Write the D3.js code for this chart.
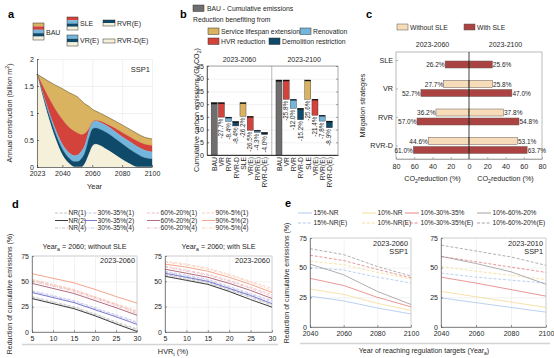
<!DOCTYPE html>
<html><head><meta charset="utf-8">
<script src="https://cdn.jsdelivr.net/npm/d3@7/dist/d3.min.js"></script>
<style>html,body{margin:0;padding:0;background:#fff;}</style>
</head><body>
<svg id="fig" width="554" height="358" xmlns="http://www.w3.org/2000/svg"></svg>
<script>
// ================= DATA =================
// Panel a : annual construction (billion m2), SSP1
const aYears  = [2023,2030,2035,2040,2045,2048,2050,2053,2055,2058,2060,2062,2065,2070,2080,2085,2090,2095,2100];
const aBAU    = [1.72,1.60,1.52,1.45,1.37,1.33,1.30,1.22,1.17,1.12,1.07,1.04,1.00,0.93,0.78,0.70,0.62,0.55,0.52];
const aSLE    = [1.72,1.33,1.08,0.88,0.72,0.66,0.63,0.60,0.62,0.72,0.83,0.86,0.85,0.79,0.64,0.56,0.48,0.42,0.40];
const aVRE    = [1.72,1.10,0.72,0.42,0.25,0.21,0.22,0.30,0.40,0.68,0.82,0.85,0.83,0.76,0.56,0.47,0.38,0.31,0.28];
const aRVRE   = [1.72,1.05,0.65,0.33,0.15,0.10,0.10,0.16,0.26,0.55,0.70,0.72,0.70,0.63,0.43,0.33,0.24,0.17,0.15];
const aRVRDE  = [1.72,0.98,0.55,0.22,0.05,0.00,0.00,0.00,0.06,0.25,0.38,0.42,0.40,0.32,0.14,0.06,0.00,0.00,0.00];
const aXTicks = [2023,2040,2060,2080,2100];
const aYTicks = [0,0.5,1,1.5,2];

// Panel b : cumulative carbon emissions (Gt CO2)
const bCats    = ["BAU","VR","RVR","RVR-D","SLE","VR(E)","RVR(E)","RVR-D(E)"];
const bPeriods = ["2023-2060","2023-2100"];
const bBAU     = [20.6, 29.5];
const bPct2060 = [27.7, 8.4, 8.4, 26.2, 26.5, 4.3, 4.0];
const bPct2100 = [25.8, 12.0, 15.2, 25.6, 21.4, 7.8, 8.9];
const bYTicks  = [0,5,10,15,20,25,30,35];

// Panel c : CO2 reduction (%)
const cCats        = ["SLE","VR","RVR","RVR-D"];
const cWithout2060 = [null, 27.7, 36.2, 44.6];
const cWith2060    = [26.2, 52.7, 57.0, 61.0];
const cWithout2100 = [null, 25.8, 37.8, 53.1];
const cWith2100    = [25.6, 47.0, 54.8, 63.7];
const cTicks       = [80,60,40,20,0,20,40,60,80];

// Panel d : reduction of cumulative emissions (%) vs HVR_t (%)
const dHVR = [5,10,15,20,25,30];
const dNo_NR1  = [35,30,25,18,10,3];
const dNo_NR2  = [33,28,23,16,8,0.5];
const dNo_NR4  = [34,29,24,17,9,2];
const dNo_A1   = [41,36,31,24,17,10];
const dNo_A2   = [39,34,29,22,15,7.5];
const dNo_A4   = [40,35,30,23,16,9];
const dNo_B1   = [51,46,41,34,27,19];
const dNo_B2   = [48,43,38,31,24,16.5];
const dNo_B4   = [50,45,40,33,26,18];
const dNo_C1   = [52,47,42,35,28,21];
const dNo_C2   = [57.5,53,48.5,42,35,28.5];
const dNo_C4   = [51.5,46.5,41.5,34.5,27.5,20];
const dSle_NR1 = [57,53,49,42,35,27];
const dSle_NR2 = [55,51,47,40,32,24.5];
const dSle_NR4 = [56,52,48,41,34,26];
const dSle_A1  = [60,56,52,45,38,31];
const dSle_A2  = [58,54,50,43,36,28];
const dSle_A4  = [59,55,51,44,37,30];
const dSle_B1  = [65,61,57,51,44,37];
const dSle_B2  = [62,58,54,48,41,33];
const dSle_B4  = [64,60,56,50,43,35];
const dSle_C1  = [70,67,63,57,50,43];
const dSle_C2  = [67,64,60,54,47,39];
const dSle_C4  = [69,66,62,56,49,41];
const dXTicks = [5,10,15,20,25,30];
const dYTicks = [0,25,50,75];

// Panel e : reduction of cumulative emissions (%) vs Year_a
const eYears = [2040,2060,2080,2100];
const e60_NR15   = [26,22,16,11];
const e60_NR10   = [32,27.5,20,14];
const e60_R3035  = [41,35,25,17];
const e60_R6020  = [53,44,30,19];
const e60_NR15E  = [50,48,42,37];
const e60_NR10E  = [55.5,52.5,46,40.5];
const e60_R3035E = [60.5,56,48.5,41.5];
const e60_R6020E = [66,61,51,43];
const e100_NR15   = [24.5,20.5,16.5,12.5];
const e100_NR10   = [30,25.5,21,16.5];
const e100_R3035  = [42,37,31.5,26];
const e100_R6020  = [59.5,53.5,46.5,36];
const e100_NR15E  = [45.5,42,39.5,37];
const e100_NR10E  = [51,47,43.5,40];
const e100_R3035E = [59.5,55,50.5,46];
const e100_R6020E = [69,64,59,52];
const eXTicks = [2040,2060,2080,2100];
const eYTicks = [0,25,50,75];

// ================= STYLE =================
const F = "'Liberation Sans', Arial, Helvetica, sans-serif";
const GOLD="#d9b35f", RED="#d3423b", LB="#74b5dc", NAVY="#0f4a6a", CREAM="#f4f0da", BAUG="#6e6e6e";
const TXT="#262626", GRID="#e4e4e4";
const svg = d3.select("#fig").attr("font-family", F);

function T(g,x,y,s,o={}){
  const t=g.append("text").attr("x",x).attr("y",y).attr("font-size",o.fs||7).attr("fill",o.fill||TXT).text(s);
  if(o.anchor) t.attr("text-anchor",o.anchor);
  if(o.weight) t.attr("font-weight",o.weight);
  if(o.rot!=null) t.attr("transform",`rotate(${o.rot},${x},${y})`);
  return t;
}
function R(g,x,y,parts,o={}){
  const fs=o.fs||7;
  const t=g.append("text").attr("x",x).attr("y",y).attr("font-size",fs).attr("fill",o.fill||TXT);
  if(o.anchor) t.attr("text-anchor",o.anchor);
  if(o.rot!=null) t.attr("transform",`rotate(${o.rot},${x},${y})`);
  let shift=0;
  parts.forEach(([s,k])=>{
    const sp=t.append("tspan").text(s);
    const target = k==="sub"?2:(k==="sup"?-3:0);
    sp.attr("dy",target-shift); shift=target;
    if(k) sp.attr("font-size",fs*0.72);
  });
  return t;
}
function styleAxis(a,col,fs){
  a.attr("font-family",F);
  a.selectAll(".domain").attr("stroke",col||TXT).attr("stroke-width",0.6);
  a.selectAll(".tick line").attr("stroke",col||TXT).attr("stroke-width",0.6);
  a.selectAll(".tick text").attr("font-size",fs||7).attr("fill",TXT).attr("font-family",F);
  return a;
}
function gridX(g,x,ticks,y0,y1){
  g.append("g").attr("transform",`translate(0,${y0})`)
   .call(d3.axisBottom(x).tickValues(ticks).tickSize(-(y0-y1)).tickFormat(""))
   .call(s=>{s.select(".domain").remove(); s.selectAll("line").attr("stroke",GRID).attr("stroke-width",0.5);});
}
function gridY(g,y,ticks,x0,x1){
  g.append("g").attr("transform",`translate(${x0},0)`)
   .call(d3.axisLeft(y).tickValues(ticks).tickSize(-(x1-x0)).tickFormat(""))
   .call(s=>{s.select(".domain").remove(); s.selectAll("line").attr("stroke",GRID).attr("stroke-width",0.5);});
}

// ================= PANEL a =================
(function(){
  const g=svg.append("g");
  const x=d3.scaleLinear().domain([2023,2100]).range([37,152]);
  const y=d3.scaleLinear().domain([0,2]).range([167,59]);
  gridX(g,x,aXTicks,167,59); gridY(g,y,aYTicks,37,152);
  const zeros=aYears.map(()=>0);
  const layers=[[aBAU,aSLE,GOLD],[aSLE,aVRE,RED],[aVRE,aRVRE,LB],[aRVRE,aRVRDE,NAVY],[aRVRDE,zeros,CREAM]];
  layers.forEach(([top,bot,c])=>{
    const ar=d3.area().curve(d3.curveMonotoneX).x((d,i)=>x(aYears[i])).y0((d,i)=>y(bot[i])).y1((d,i)=>y(top[i]));
    g.append("path").datum(top).attr("d",ar).attr("fill",c).attr("stroke",c).attr("stroke-width",0.3);
  });
  g.append("path").datum(aBAU).attr("fill","none").attr("stroke","#6b5a3a").attr("stroke-width",0.6)
    .attr("d",d3.line().curve(d3.curveMonotoneX).x((d,i)=>x(aYears[i])).y(d=>y(d)));
  styleAxis(g.append("g").attr("transform","translate(0,167)")
    .call(d3.axisBottom(x).tickValues(aXTicks).tickFormat(d3.format("d")).tickSizeInner(-2).tickSizeOuter(0).tickPadding(4)));
  styleAxis(g.append("g").attr("transform","translate(37,0)")
    .call(d3.axisLeft(y).tickValues(aYTicks).tickFormat(d=>String(d)).tickSizeInner(-2).tickSizeOuter(0).tickPadding(3)));
  T(g,150,72,"SSP1",{anchor:"end",fs:7.5});
  T(g,94.5,189,"Year",{anchor:"middle",fs:7.5});
  R(g,12,113,[["Annual construction (billion m",""],["2","sup"],[")",""]],{anchor:"middle",rot:-90,fs:7.2});
  T(g,8,18,"a",{fs:11,weight:"bold",fill:"#000"});
  // legend icons
  function icon(x0,y0,w,h,cols){
    const bh=h/cols.length;
    cols.forEach((c,i)=>g.append("rect").attr("x",x0).attr("y",y0+i*bh).attr("width",w).attr("height",bh).attr("fill",c));
    g.append("rect").attr("x",x0).attr("y",y0).attr("width",w).attr("height",h).attr("fill","none").attr("stroke","#333").attr("stroke-width",0.5);
  }
  icon(33,23,11,17,[GOLD,RED,LB,NAVY,CREAM]); T(g,46,35,"BAU",{fs:7});
  icon(67,17,11,13,[RED,LB,NAVY,CREAM]);     T(g,80,26,"SLE",{fs:7});
  icon(67,35,11,11,[LB,NAVY,CREAM]);         T(g,80,43,"VR(E)",{fs:7});
  icon(103,20,12,6,[NAVY,CREAM]);            T(g,117,26,"RVR(E)",{fs:7});
  icon(103,39,12,4,[CREAM]);                 T(g,117,43,"RVR-D(E)",{fs:7});
})();

// ================= PANEL b =================
(function(){
  const g=svg.append("g");
  const x=d3.scaleLinear().domain([0,18.2]).range([207,338]);
  const y=d3.scaleLinear().domain([0,35]).range([155,66]);
  gridY(g,y,bYTicks,207,338);
  const colors=[RED,LB,NAVY,GOLD,RED,LB,NAVY];
  const pcts=[bPct2060,bPct2100];
  const hw=0.42;
  const ticks=[], labs={};
  [0,1].forEach(p=>{
    const base=p*9, B=bBAU[p];
    ticks.push(base+1); labs[base+1]="BAU";
    // BAU bar
    g.append("rect").attr("x",x(base+1-hw)).attr("width",x(base+1+hw)-x(base+1-hw)).attr("y",y(B)).attr("height",y(0)-y(B)).attr("fill",BAUG).attr("stroke","#333").attr("stroke-width",0.4);
    g.append("line").attr("x1",x(base+1-hw)).attr("x2",x(base+1+hw)).attr("y1",y(B)+0.8).attr("y2",y(B)+0.8).attr("stroke","#111").attr("stroke-width",1.6);
    let cur=B;
    pcts[p].forEach((pc,k)=>{
      if(k===3) cur=B;
      const i=base+2+k; ticks.push(i); labs[i]=bCats[k+1];
      const top=cur, bot=cur-B*pc/100; cur=bot;
      g.append("rect").attr("x",x(i-hw)).attr("width",x(i+hw)-x(i-hw)).attr("y",y(top)).attr("height",y(bot)-y(top)).attr("fill",colors[k]).attr("stroke","#333").attr("stroke-width",0.4);
      g.append("line").attr("x1",x(i-hw)).attr("x2",x(i+hw)).attr("y1",y(top)+0.6).attr("y2",y(top)+0.6).attr("stroke","#111").attr("stroke-width",1.2);
      g.append("text").attr("transform",`translate(${x(i)},${y(bot)+1.5}) rotate(-90)`).attr("text-anchor","end").attr("dy","0.33em")
        .attr("font-size",6.3).attr("fill",TXT).text("-"+pc.toFixed(1)+"%");
    });
  });
  g.append("line").attr("x1",x(9)).attr("x2",x(9)).attr("y1",66).attr("y2",155).attr("stroke","#999").attr("stroke-width",0.7);
  g.append("rect").attr("x",207).attr("y",66).attr("width",131).attr("height",89).attr("fill","none").attr("stroke","#555").attr("stroke-width",0.5);
  const ax=styleAxis(g.append("g").attr("transform","translate(0,155)")
    .call(d3.axisBottom(x).tickValues(ticks).tickFormat(i=>labs[i]).tickSizeInner(0).tickSizeOuter(0)));
  ax.selectAll(".tick text").attr("transform","rotate(-90)").attr("text-anchor","end").attr("x",-2).attr("y",0).attr("dy","0.33em").attr("font-size",6.8);
  ax.select(".domain").attr("stroke","#111").attr("stroke-width",0.8);
  styleAxis(g.append("g").attr("transform","translate(207,0)")
    .call(d3.axisLeft(y).tickValues(bYTicks).tickSizeInner(-2).tickSizeOuter(0).tickPadding(3)));
  g.append("g").attr("transform","translate(338,0)").call(d3.axisRight(y).tickValues(bYTicks).tickSizeInner(-2).tickSizeOuter(0).tickFormat(""))
    .call(s=>{s.select(".domain").remove(); s.selectAll("line").attr("stroke","#555").attr("stroke-width",0.5);});
  T(g,x(4.5),62,bPeriods[0],{anchor:"middle",fs:7});
  T(g,x(13.5),62,bPeriods[1],{anchor:"middle",fs:7});
  R(g,199,110,[["Cumulative carbon emissions (Gt CO",""],["2","sub"],[")",""]],{anchor:"middle",rot:-90,fs:7.2});
  T(g,180,18,"b",{fs:11,weight:"bold",fill:"#000"});
  // legend
  function sw(x0,y0,c){g.append("rect").attr("x",x0).attr("y",y0).attr("width",11).attr("height",6.5).attr("fill",c).attr("stroke","#333").attr("stroke-width",0.5);}
  sw(193,5,BAUG); T(g,207,11,"BAU - Cumulative emissions",{fs:6.8});
  T(g,193,22,"Reduction benefiting  from",{fs:6.8});
  sw(208,28,GOLD); T(g,221,34,"Service lifespan extension",{fs:6.8});
  sw(300,28,LB);   T(g,313,34,"Renovation",{fs:6.8});
  sw(208,38,RED);  T(g,221,44,"HVR reduction",{fs:6.8});
  sw(269,38,NAVY); T(g,282,44,"Demolition restriction",{fs:6.8});
})();

// ================= PANEL c =================
(function(){
  const g=svg.append("g");
  const LIGHT="#f6dcb9", DARK="#aa4341";
  const xl=d3.scaleLinear().domain([80,0]).range([396,469]);
  const xr=d3.scaleLinear().domain([0,80]).range([469,542]);
  const y=d3.scalePoint().domain(cCats).range([60,145.5]);
  g.append("rect").attr("x",396).attr("y",52).attr("width",146).attr("height",107).attr("fill","none").attr("stroke","#8c8c8c").attr("stroke-width",0.6);
  function bar(x0,x1,yy,c){g.append("rect").attr("x",Math.min(x0,x1)).attr("y",yy).attr("width",Math.abs(x1-x0)).attr("height",7).attr("fill",c).attr("stroke","#6b5b55").attr("stroke-width",0.5);}
  cCats.forEach((cat,i)=>{
    const yc=y(cat);
    if(cWithout2060[i]!=null){
      bar(xl(cWithout2060[i]),xl(0),yc-8,LIGHT); bar(xr(0),xr(cWithout2100[i]),yc-8,LIGHT);
      T(g,xl(cWithout2060[i])-0.5,yc-2,cWithout2060[i].toFixed(1)+"%",{anchor:"end",fs:6.5});
      T(g,xr(cWithout2100[i])+0.5,yc-2,cWithout2100[i].toFixed(1)+"%",{fs:6.5});
    }
    bar(xl(cWith2060[i]),xl(0),yc+1,DARK); bar(xr(0),xr(cWith2100[i]),yc+1,DARK);
    T(g,xl(cWith2060[i])-0.5,yc+7,cWith2060[i].toFixed(1)+"%",{anchor:"end",fs:6.5});
    T(g,xr(cWith2100[i])+0.5,yc+7,cWith2100[i].toFixed(1)+"%",{fs:6.5});
  });
  g.append("line").attr("x1",469).attr("x2",469).attr("y1",52).attr("y2",159).attr("stroke","#111").attr("stroke-width",0.8);
  styleAxis(g.append("g").attr("transform","translate(0,159)")
    .call(d3.axisBottom(xl).tickValues(cTicks.slice(0,4)).tickSizeInner(-2).tickSizeOuter(0).tickPadding(5)),"#8c8c8c",7.2);
  styleAxis(g.append("g").attr("transform","translate(0,159)")
    .call(d3.axisBottom(xr).tickValues(cTicks.slice(4)).tickSizeInner(-2).tickSizeOuter(0).tickPadding(5)),"#8c8c8c",7.2);
  const ya=styleAxis(g.append("g").attr("transform","translate(396,0)")
    .call(d3.axisLeft(y).tickSizeInner(-2).tickSizeOuter(0).tickPadding(3)),"#8c8c8c",7.2);
  ya.select(".domain").remove();
  T(g,432.5,47,"2023-2060",{anchor:"middle",fs:7});
  T(g,505.5,47,"2023-2100",{anchor:"middle",fs:7});
  R(g,432.5,181,[["CO",""],["2","sub"],["reduction  (%)",""]],{anchor:"middle",fs:7.2});
  R(g,505.5,181,[["CO",""],["2","sub"],["reduction  (%)",""]],{anchor:"middle",fs:7.2});
  T(g,365,105.5,"Mitigation strategies",{anchor:"middle",rot:-90,fs:7.2});
  T(g,366,18,"c",{fs:11,weight:"bold",fill:"#000"});
  g.append("rect").attr("x",397).attr("y",24).attr("width",11).attr("height",6).attr("fill",LIGHT).attr("stroke","#555").attr("stroke-width",0.5);
  T(g,410,30,"Without SLE",{fs:6.8});
  g.append("rect").attr("x",464).attr("y",24).attr("width",11).attr("height",6).attr("fill",DARK).attr("stroke","#555").attr("stroke-width",0.5);
  T(g,477,30,"With SLE",{fs:6.8});
})();

// ================= PANEL d =================
(function(){
  const g=svg.append("g");
  const y=d3.scaleLinear().domain([0,75]).range([332,256]);
  const grp=[["NR","#262626","#b4b4b4"],["30%-35%","#6a6ac6","#b6b6e6"],["60%-20%","#aa5a6c","#e6aab6"],["90%-5%","#f39b7d","#f8c4ae"]];
  const dash={"1":"3,1.6","2":null,"4":"3.2,1.4,1,1.4"};
  const noSLE=[[dNo_NR1,dNo_NR2,dNo_NR4],[dNo_A1,dNo_A2,dNo_A4],[dNo_B1,dNo_B2,dNo_B4],[dNo_C1,dNo_C2,dNo_C4]];
  const sle=[[dSle_NR1,dSle_NR2,dSle_NR4],[dSle_A1,dSle_A2,dSle_A4],[dSle_B1,dSle_B2,dSle_B4],[dSle_C1,dSle_C2,dSle_C4]];
  const vars=["1","2","4"];
  function plot(x0,x1,data,title){
    const x=d3.scaleLinear().domain([5,30]).range([x0,x1]);
    g.append("rect").attr("x",x0).attr("y",256).attr("width",x1-x0).attr("height",76).attr("fill","#fff").attr("stroke","#9a9a9a").attr("stroke-width",0.5);
    gridX(g,x,dXTicks,332,256); gridY(g,y,dYTicks,x0,x1);
    const ln=d3.line().x((d,i)=>x(dHVR[i])).y(d=>y(d));
    // light first, then solid
    [0,2,1].forEach(v=>{
      data.forEach((arrs,gi)=>{
        const p=g.append("path").datum(arrs[v]).attr("d",ln).attr("fill","none")
          .attr("stroke",v===1?grp[gi][1]:grp[gi][2]).attr("stroke-width",v===1?0.9:0.7);
        if(dash[vars[v]]) p.attr("stroke-dasharray",dash[vars[v]]);
      });
    });
    styleAxis(g.append("g").attr("transform","translate(0,332)")
      .call(d3.axisBottom(x).tickValues(dXTicks).tickSizeInner(-2).tickSizeOuter(0).tickPadding(4)),"#555",7);
    styleAxis(g.append("g").attr("transform",`translate(${x0},0)`)
      .call(d3.axisLeft(y).tickValues(dYTicks).tickSizeInner(-2).tickSizeOuter(0).tickPadding(3)),"#555",7);
    T(g,x1-2,263,"2023-2060",{anchor:"end",fs:7.3});
    R(g,(x0+x1)/2,249,[["Year",""],["a","sub"],[" = 2060; "+title,""]],{anchor:"middle",fs:7.2});
  }
  plot(32,137,noSLE,"without SLE");
  plot(165,272,sle,"with SLE");
  R(g,173,354,[["HVR",""],["t","sub"],[" (%)",""]],{anchor:"middle",fs:7.3});
  T(g,12,294,"Reduction of cumulative emissions (%)",{anchor:"middle",rot:-90,fs:7});
  T(g,12,208,"d",{fs:11,weight:"bold",fill:"#000"});
  g.append("line").attr("x1",22).attr("x2",278).attr("y1",344.5).attr("y2",344.5).attr("stroke","#d4d4d4").attr("stroke-width",1.5);
  // legend
  const colX=[55,84,147,202], rowY=[213,220.5,228];
  grp.forEach((gr,gi)=>{
    vars.forEach((v,vi)=>{
      const l=g.append("line").attr("x1",colX[gi]).attr("x2",colX[gi]+13).attr("y1",rowY[vi]).attr("y2",rowY[vi])
        .attr("stroke",vi===1?gr[1]:gr[2]).attr("stroke-width",vi===1?0.9:0.8);
      if(dash[v]) l.attr("stroke-dasharray",dash[v]);
      T(g,colX[gi]+13.5,rowY[vi]+2.4,gr[0]+"("+v+")",{fs:6.6});
    });
  });
})();

// ================= PANEL e =================
(function(){
  const g=svg.append("g");
  const y=d3.scaleLinear().domain([0,75]).range([327,238]);
  const cols=["#a8c5ee","#f5da94","#e57c7c","#9a9a9a"];
  const names=["15%-NR","10%-NR","10%-30%-35%","10%-60%-20%"];
  function plot(x0,x1,sol,das,t1){
    const x=d3.scaleLinear().domain([2040,2100]).range([x0,x1]);
    g.append("rect").attr("x",x0).attr("y",238).attr("width",x1-x0).attr("height",89).attr("fill","#fff").attr("stroke","#9a9a9a").attr("stroke-width",0.5);
    gridX(g,x,eXTicks,327,238); gridY(g,y,eYTicks,x0,x1);
    const ln=d3.line().x((d,i)=>x(eYears[i])).y(d=>y(d));
    das.forEach((a,i)=>g.append("path").datum(a).attr("d",ln).attr("fill","none").attr("stroke",cols[i]).attr("stroke-width",0.8).attr("stroke-dasharray","3,1.8"));
    sol.forEach((a,i)=>g.append("path").datum(a).attr("d",ln).attr("fill","none").attr("stroke",cols[i]).attr("stroke-width",0.8));
    styleAxis(g.append("g").attr("transform","translate(0,327)")
      .call(d3.axisBottom(x).tickValues(eXTicks).tickFormat(d3.format("d")).tickSizeInner(-2).tickSizeOuter(0).tickPadding(4)),"#555",7);
    styleAxis(g.append("g").attr("transform",`translate(${x0},0)`)
      .call(d3.axisLeft(y).tickValues(eYTicks).tickSizeInner(-2).tickSizeOuter(0).tickPadding(3)),"#555",7);
    T(g,x1-3,245.5,t1,{anchor:"end",fs:7.3});
    T(g,x1-3,253.5,"SSP1",{anchor:"end",fs:7.3});
  }
  plot(310,411,[e60_NR15,e60_NR10,e60_R3035,e60_R6020],[e60_NR15E,e60_NR10E,e60_R3035E,e60_R6020E],"2023-2060");
  plot(441,546,[e100_NR15,e100_NR10,e100_R3035,e100_R6020],[e100_NR15E,e100_NR10E,e100_R3035E,e100_R6020E],"2023-2010");
  R(g,424,353,[["Year of reaching regulation targets (Year",""],["a","sub"],[")",""]],{anchor:"middle",fs:7});
  T(g,289,283,"Reduction of cumulative emissions (%)",{anchor:"middle",rot:-90,fs:7});
  T(g,285,207,"e",{fs:11,weight:"bold",fill:"#000"});
  g.append("line").attr("x1",300).attr("x2",550).attr("y1",343.5).attr("y2",343.5).attr("stroke","#d4d4d4").attr("stroke-width",1.5);
  const colX=[298,362,405,477];
  names.forEach((n,i)=>{
    g.append("line").attr("x1",colX[i]).attr("x2",colX[i]+14).attr("y1",213).attr("y2",213).attr("stroke",cols[i]).attr("stroke-width",0.9);
    T(g,colX[i]+15.5,215.4,n,{fs:6.6});
    g.append("line").attr("x1",colX[i]).attr("x2",colX[i]+14).attr("y1",223).attr("y2",223).attr("stroke",cols[i]).attr("stroke-width",0.9).attr("stroke-dasharray","3,1.8");
    T(g,colX[i]+15.5,225.4,n+"(E)",{fs:6.6});
  });
})();
</script>
</body></html>
